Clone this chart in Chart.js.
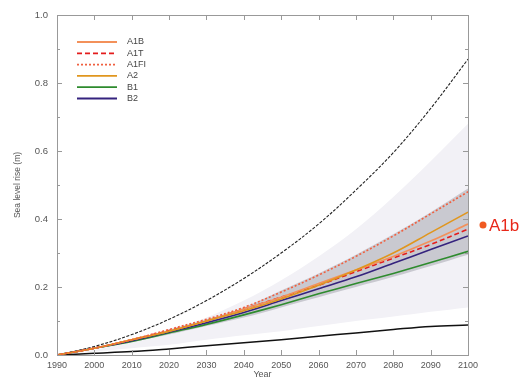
<!DOCTYPE html>
<html><head><meta charset="utf-8">
<script src="https://cdn.jsdelivr.net/npm/chart.js@4.4.0/dist/chart.umd.min.js"></script>
<style>html,body{margin:0;padding:0;background:#fff}#wrap{width:531px;height:380px}</style>
</head><body><div id="wrap"><canvas id="c" width="531" height="380"></canvas></div>
<script>
const years = [1990,2000,2010,2020,2030,2040,2050,2060,2070,2080,2090,2100];
const yTicks = [0.0,0.2,0.4,0.6,0.8,1.0];
const upperBound = [0,0.025,0.06,0.105,0.16,0.225,0.30,0.385,0.485,0.595,0.725,0.87];
const lowerBound = [0,0.005,0.01,0.018,0.027,0.036,0.045,0.055,0.065,0.075,0.084,0.088];
const lightHigh = [0,0.015,0.04,0.07,0.11,0.16,0.22,0.29,0.37,0.465,0.57,0.68];
const lightLow  = [0,0.01,0.02,0.03,0.045,0.058,0.07,0.085,0.1,0.113,0.127,0.14];
const darkHigh  = [0,0.02,0.045,0.075,0.105,0.14,0.19,0.24,0.295,0.355,0.42,0.49];
const darkLow   = [0,0.018,0.038,0.06,0.085,0.11,0.14,0.17,0.2,0.23,0.262,0.295];
const A1B  = [0,0.02,0.045,0.07,0.10,0.135,0.17,0.21,0.25,0.29,0.335,0.385];
const A1T  = [0,0.02,0.045,0.072,0.10,0.135,0.17,0.205,0.245,0.285,0.325,0.37];
const A1FI = [0,0.02,0.045,0.075,0.105,0.14,0.185,0.235,0.29,0.35,0.415,0.48];
const A2   = [0,0.02,0.045,0.07,0.10,0.13,0.165,0.205,0.25,0.30,0.36,0.42];
const B1   = [0,0.02,0.04,0.065,0.09,0.118,0.148,0.18,0.21,0.24,0.272,0.305];
const B2   = [0,0.02,0.042,0.068,0.095,0.125,0.16,0.195,0.23,0.27,0.31,0.35];
const scenarioNames = ['A1B','A1T','A1FI','A2','B1','B2'];
const calloutLabel = 'A1b';

const pts = arr => years.map((y,i)=>({x:y,y:arr[i]}));
const styles = {
  A1B:{c:'#f3915a',d:[]},
  A1T:{c:'#e41c1c',d:[5,3]},
  A1FI:{c:'#f06040',d:[2,2]},
  A2:{c:'#e0961e',d:[]},
  B1:{c:'#2e8b2e',d:[]},
  B2:{c:'#35237e',d:[]}
};
const seriesData = {A1B,A1T,A1FI,A2,B1,B2};
const datasets = [];
['A1FI','A2','A1B','A1T','B2','B1'].forEach((n,k)=>{
  datasets.push({label:n,data:pts(seriesData[n]),borderColor:styles[n].c,borderDash:styles[n].d,
    borderWidth:1.6,pointRadius:0,fill:false,tension:0.35,order:1});
});
datasets.push({label:'upper',data:pts(upperBound),borderColor:'#222',borderWidth:1.1,borderDash:[3,1.5],pointRadius:0,fill:false,tension:0.35,order:2});
datasets.push({label:'lower',data:pts(lowerBound),borderColor:'#111',borderWidth:1.5,pointRadius:0,fill:false,tension:0.35,order:2});
datasets.push({label:'lightLow',data:pts(lightLow),borderWidth:0,borderColor:'rgba(0,0,0,0)',pointRadius:0,fill:false,tension:0.35,order:10});
datasets.push({label:'lightHigh',data:pts(lightHigh),borderWidth:0,borderColor:'rgba(0,0,0,0)',pointRadius:0,fill:'-1',backgroundColor:'#f2f1f6',tension:0.35,order:10});
datasets.push({label:'darkLow',data:pts(darkLow),borderWidth:0,borderColor:'rgba(0,0,0,0)',pointRadius:0,fill:false,tension:0.35,order:9});
datasets.push({label:'darkHigh',data:pts(darkHigh),borderWidth:0,borderColor:'rgba(0,0,0,0)',pointRadius:0,fill:'-1',backgroundColor:'#c9c9d0',tension:0.35,order:9});

const frame = {
  id:'frame',
  afterDraw(chart){
    const {ctx,chartArea:a,scales:{x,y}} = chart;
    ctx.save();
    ctx.strokeStyle='#999';ctx.lineWidth=1;
    ctx.strokeRect(a.left+0.5,a.top+0.5,a.right-a.left,a.bottom-a.top);
    ctx.beginPath();
    years.forEach(v=>{const px=Math.round(x.getPixelForValue(v))+0.5;
      ctx.moveTo(px,a.bottom);ctx.lineTo(px,a.bottom-5);
      ctx.moveTo(px,a.top);ctx.lineTo(px,a.top+5);});
    for(let v=0;v<=1.0001;v+=0.1){const py=Math.round(y.getPixelForValue(v))+0.5;
      const major=Math.abs(v*5-Math.round(v*5))<1e-6;const L=major?5:3;
      ctx.moveTo(a.left,py);ctx.lineTo(a.left+L,py);
      ctx.moveTo(a.right,py);ctx.lineTo(a.right-L,py);}
    ctx.stroke();
    let ly=42;
    ctx.font='9px "Liberation Sans", Arial, sans-serif';ctx.textBaseline='middle';
    scenarioNames.forEach(n=>{
      ctx.strokeStyle=styles[n].c;ctx.lineWidth=1.8;ctx.setLineDash(styles[n].d);
      ctx.beginPath();ctx.moveTo(77,ly);ctx.lineTo(117,ly);ctx.stroke();
      ctx.setLineDash([]);ctx.fillStyle='#444';ctx.fillText(n,127,ly);
      ly+=11.3;});
    const yb = y.getPixelForValue(A1B[A1B.length-1]);
    ctx.fillStyle='#f05a22';ctx.beginPath();ctx.arc(483,yb+1,3.5,0,Math.PI*2);ctx.fill();
    ctx.fillStyle='#e8281a';ctx.font='17px "Liberation Sans", Arial, sans-serif';
    ctx.fillText(calloutLabel,489,yb+2);
    ctx.restore();
  }
};

new Chart(document.getElementById('c'),{
  type:'line',
  data:{datasets},
  options:{
    responsive:false,animation:false,
    layout:{padding:{left:0,right:63,top:15,bottom:0}},
    plugins:{legend:{display:false},tooltip:{enabled:false}},
    scales:{
      x:{type:'linear',min:1990,max:2100,
        afterBuildTicks(s){s.ticks=years.map(v=>({value:v}));},
        afterFit(s){s.height=25;},
        grid:{display:false,drawTicks:false},border:{display:false},
        ticks:{padding:5,color:'#555',callback:v=>String(v),font:{size:9,family:'"Liberation Sans", Arial, sans-serif'},maxRotation:0,autoSkip:false},
        title:{display:true,text:'Year',color:'#555',padding:{top:0,bottom:0},font:{size:9,family:'"Liberation Sans", Arial, sans-serif'}}},
      y:{min:0,max:1.0,
        afterBuildTicks(s){s.ticks=yTicks.map(v=>({value:v}));},
        afterFit(s){s.width=57;},
        grid:{display:false,drawTicks:false},border:{display:false},
        ticks:{padding:9,color:'#555',callback:v=>v.toFixed(1),font:{size:9.5,family:'"Liberation Sans", Arial, sans-serif'}},
        title:{display:true,text:'Sea level rise (m)',color:'#555',padding:{top:13,bottom:0},font:{size:8.5,family:'"Liberation Sans", Arial, sans-serif'}}}
    }
  },
  plugins:[frame]
});
</script></body></html>
